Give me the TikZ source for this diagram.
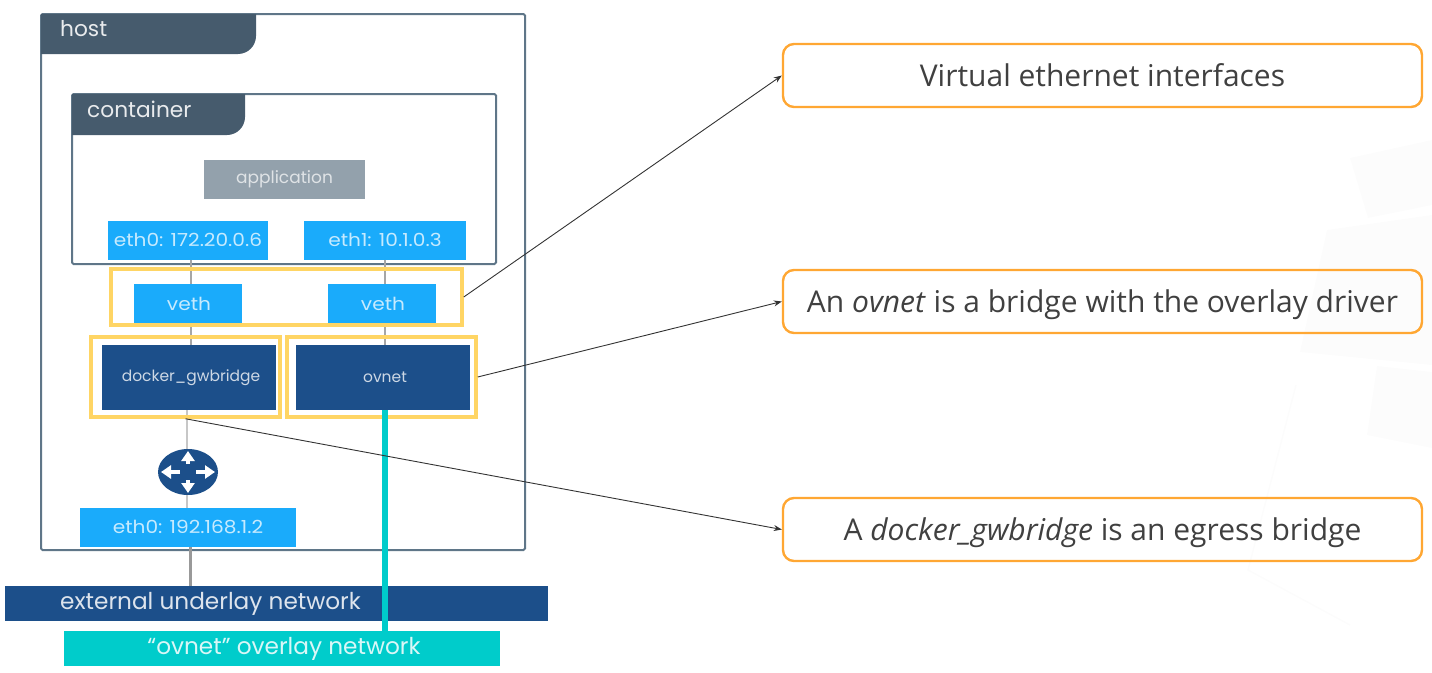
\documentclass[tikz,border=0pt]{standalone}
\usepackage{fontspec}
\setmainfont{Open Sans}
\newfontfamily\boxfont{Poppins}
\newfontfamily\ifacefont[FakeStretch=1.12]{Poppins}
\usepackage{tikz}
\usetikzlibrary{positioning,arrows.meta,shapes.geometric}
\definecolor{framec}{HTML}{5F7688}
\definecolor{tabc}{HTML}{465B6D}
\definecolor{appc}{HTML}{93A1AC}
\definecolor{ifc}{HTML}{1AABFB}
\definecolor{navyc}{HTML}{1C4F8A}
\definecolor{tealc}{HTML}{00CCCB}
\definecolor{markc}{HTML}{FFD564}
\definecolor{callc}{HTML}{FFA733}
\definecolor{inkc}{HTML}{404040}
\definecolor{ghostc}{HTML}{FCFCFC}

\begin{document}
\begin{tikzpicture}[
  x=1pt, y=-1pt,
  frame/.style={draw=framec, line width=2pt, rounded corners=1.5pt},
  tabshape/.style={fill=tabc},
  tabtext/.style={text=white!88!tabc, font=\boxfont\fontsize{21.7}{24}\selectfont, inner sep=0pt, anchor=base west},
  ifbox/.style={fill=ifc, text=white!75!ifc, font=\ifacefont\fontsize{18}{18}\selectfont, minimum height=39pt, inner sep=0pt},
  bridge/.style={fill=navyc, text=white!78!navyc, font=\boxfont\fontsize{15.5}{16}\selectfont, minimum width=174pt, minimum height=65pt, inner sep=0pt},
  netbar/.style={font=\boxfont\fontsize{23.2}{24}\selectfont, minimum height=35pt, inner sep=0pt},
  hilite/.style={draw=markc, line width=3.5pt, inner sep=0pt},
  callout/.style={draw=callc, line width=2.4pt, rounded corners=11pt, text=inkc, font=\fontsize{30}{36}\selectfont, text height=24pt, text depth=2pt, minimum width=639pt, minimum height=63pt, inner sep=0pt},
  wire/.style={draw=black!35, line width=1.6pt},
  arrow/.style={-{Stealth[length=8pt,width=6pt]}, draw=black!80, line width=0.9pt}
]
\useasboundingbox (0,0) rectangle (1432,672);
% faint background
\fill[ghostc] (1350,158) -- (1432,140) -- (1432,205) -- (1368,218) -- cycle;
\fill[ghostc] (1327,230) -- (1432,215) -- (1432,365) -- (1300,352) -- cycle;
\fill[ghostc] (1377,366) -- (1432,372) -- (1432,448) -- (1367,435) -- cycle;
\draw[ghostc, line width=1.5pt] (1296,385) -- (1248,570) -- (1350,625);

% host and container
\draw[frame] (41,14) rectangle (525,550);
\fill[tabshape] (41,14) -- (256,14) [rounded corners=18pt] -- (256,54) [sharp corners] -- (41,54) -- cycle;
\node[tabtext] (hostlabel) at (60,36) {host};
\draw[frame] (72,94) rectangle (496,264);
\fill[tabshape] (72,94) -- (245,94) [rounded corners=18pt] -- (245,135) [sharp corners] -- (72,135) -- cycle;
\node[tabtext] (containerlabel) at (87,117) {container};

\node[ifbox, fill=appc, text=white!70!appc, minimum width=161pt, font=\boxfont\fontsize{17}{18}\selectfont] (app) at (284.5,179.5) {application};
\node[ifbox, minimum width=160pt] (eth0) at (188,240) {eth0: 172.20.0.6};
\node[ifbox, minimum width=162pt] (eth1) at (385,240) {eth1: 10.1.0.3};
\node[ifbox, minimum width=108pt] (vetha) at (188,303.5) {\hspace{2pt}veth};
\node[ifbox, minimum width=108pt] (vethb) at (382,303.5) {\hspace{2pt}veth};
\node[bridge] (gwbridge) at (189,377.5) {\hspace{4pt}docker\_gwbridge};
\node[bridge] (ovnet) at (383,377.5) {\hspace{4pt}ovnet};

\node[minimum width=60pt, minimum height=46pt, inner sep=0pt, ellipse, fill=navyc] (router) at (188,472) {};
\foreach \ang in {0,90,180,270}
  \draw[white, line width=4.5pt, -{Triangle[length=10pt,width=13pt]}, shorten <=3pt] (router.center) ++(\ang:5pt) -- ++(\ang:\ifodd\numexpr\ang/90\relax 16pt\else 22pt\fi);

\node[ifbox, minimum width=216pt] (ethhost) at (188,527.5) {eth0: 192.168.1.2};
\node[netbar, fill=navyc, text=white!85!navyc, minimum width=543pt] (underlay) at (276.5,603.5) {\hspace{-132pt}external underlay network};
\node[netbar, fill=tealc, text=white!85!tealc, minimum width=436pt] (overlay) at (282,648.5) {\hspace{4pt}“ovnet” overlay network};

% links
\draw[wire] ([xshift=3pt]eth0.south) -- ([xshift=3pt]vetha.north);
\draw[wire] ([xshift=3pt]vetha.south) -- ([xshift=2pt]gwbridge.north);
\draw[wire] (eth1.south) -- ([xshift=3pt]vethb.north);
\draw[wire] ([xshift=3pt]vethb.south) -- ([xshift=2pt]ovnet.north);
\draw[wire, draw=black!22] ([xshift=-2pt]gwbridge.south) -- ([xshift=-1pt]router.north);
\draw[wire, draw=black!22] ([xshift=-1pt]router.south) -- ([xshift=-1pt]ethhost.north);
\draw[wire, draw=black!40, line width=3pt] ([xshift=2pt]ethhost.south) -- ([xshift=-86.5pt]underlay.north);

% highlights
\node[hilite, minimum width=351pt, minimum height=56pt] (ifaces) at (286.5,297) {};
\node[hilite, minimum width=189pt, minimum height=80pt] (gwmark) at (185.5,377) {};
\node[hilite, minimum width=189pt, minimum height=80pt] (ovmark) at (381.5,377) {};
\draw[draw=tealc, line width=6pt] ([xshift=2pt]ovnet.south) -- ([xshift=103pt]overlay.north);

% notes
\node[callout] (noteveth) at (1102.5,75.5) {Virtual ethernet interfaces};
\node[callout] (noteov) at (1102.5,301.5) {An \textit{ovnet} is a bridge with the overlay driver};
\node[callout] (notegw) at (1102.5,529.5) {A \textit{docker\_gwbridge} is an egress bridge};
\draw[arrow] (ifaces.east) -- (noteveth.west);
\draw[arrow] (ovmark.east) -- (noteov.west);
\draw[arrow] (gwmark.south) -- (notegw.west);
\end{tikzpicture}
\end{document}
